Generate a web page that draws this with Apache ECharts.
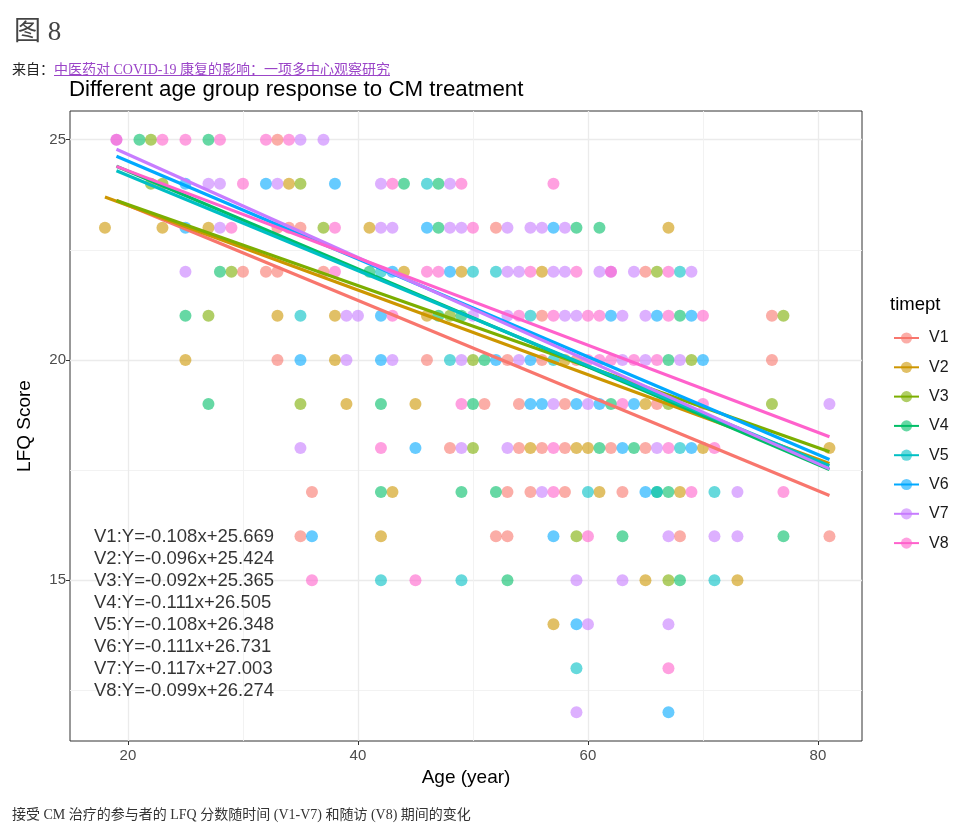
<!DOCTYPE html>
<html>
<head>
<meta charset="utf-8">
<script src="https://cdn.jsdelivr.net/npm/echarts@6/dist/echarts.min.js"></script>
<style>
html,body{margin:0;padding:0;background:#fff;width:973px;height:835px;overflow:hidden;}
#chart{position:absolute;left:0;top:0;width:973px;height:835px;}
.hdr{position:absolute;left:14px;top:9px;font-family:"Liberation Serif","Noto Sans CJK SC",serif;font-size:27px;color:#444;white-space:nowrap;}
.src{position:absolute;left:12px;top:58px;font-family:"Liberation Serif","Noto Sans CJK SC",serif;font-size:14px;color:#222;white-space:nowrap;}
.src a{color:#9b45c8;text-decoration:underline;}
.cap{position:absolute;left:12px;top:803px;font-family:"Liberation Serif","Noto Sans CJK SC",serif;font-size:14px;color:#333;white-space:nowrap;}
</style>
</head>
<body>
<div id="chart"></div>
<div class="hdr">图 8</div>
<div class="src">来自：<a href="#">中医药对 COVID-19 康复的影响：一项多中心观察研究</a></div>
<div class="cap">接受 CM 治疗的参与者的 LFQ 分数随时间 (V1-V7) 和随访 (V8) 期间的变化</div>
<script>
// ---- data ----
const seriesNames = ['V1','V2','V3','V4','V5','V6','V7','V8'];
const xTicks = [20, 40, 60, 80];
const yTicks = [15, 20, 25];
const slopes = [-0.108, -0.096, -0.092, -0.111, -0.108, -0.111, -0.117, -0.099];
const intercepts = [25.669, 25.424, 25.365, 26.505, 26.348, 26.731, 27.003, 26.274];
const fitAgeMin = [19, 18, 19, 19, 19, 19, 19, 19];
const fitAgeMax = [81, 81, 81, 81, 81, 81, 81, 81];

const v1Points = [[33,25],[33,23],[34,23],[35,23],[52,23],[30,22],[32,22],[33,22],[37,22],[65,22],
  [56,21],[76,21],[33,20],[46,20],[53,20],[56,20],[59,20],[76,20],[51,19],[54,19],[58,19],[66,19],
  [48,18],[54,18],[56,18],[58,18],[62,18],[65,18],[36,17],[53,17],[55,17],[58,17],[63,17],
  [35,16],[52,16],[53,16],[68,16],[81,16]];
const v2Points = [[34,24],[18,23],[23,23],[27,23],[41,23],[67,23],[44,22],[49,22],[56,22],
  [33,21],[38,21],[46,21],[25,20],[38,20],[58,20],[39,19],[45,19],[65,19],[55,18],[59,18],[60,18],
  [70,18],[81,18],[43,17],[61,17],[68,17],[42,16],[65,15],[73,15],[57,14]];
const v3Points = [[22,25],[22,24],[23,24],[35,24],[37,23],[29,22],[66,22],[27,21],[48,21],[77,21],
  [50,20],[69,20],[35,19],[67,19],[76,19],[50,18],[59,16],[67,15]];
const v4Points = [[21,25],[27,25],[44,24],[47,24],[47,23],[59,23],[61,23],[28,22],[41,22],
  [25,21],[47,21],[49,21],[68,21],[51,20],[67,20],[27,19],[42,19],[50,19],[62,19],[61,18],[64,18],
  [42,17],[49,17],[52,17],[66,17],[67,17],[63,16],[77,16],[53,15],[68,15]];
const v5Points = [[46,24],[42,22],[50,22],[52,22],[68,22],[35,21],[55,21],[48,20],[57,20],
  [68,18],[60,17],[66,17],[71,17],[42,15],[49,15],[71,15],[59,13]];
const v6Points = [[25,24],[32,24],[38,24],[25,23],[46,23],[57,23],[43,22],[48,22],[42,21],[62,21],
  [66,21],[69,21],[35,20],[42,20],[52,20],[55,20],[70,20],[55,19],[56,19],[59,19],[61,19],[64,19],
  [45,18],[63,18],[69,18],[65,17],[36,16],[57,16],[59,14],[67,12]];
const v7Points = [[19,25],[35,25],[37,25],[27,24],[28,24],[33,24],[42,24],[48,24],[28,23],[42,23],
  [43,23],[48,23],[49,23],[53,23],[55,23],[56,23],[58,23],[25,22],[53,22],[54,22],[57,22],[58,22],
  [61,22],[62,22],[64,22],[69,22],[39,21],[40,21],[50,21],[53,21],[58,21],[59,21],[63,21],[65,21],
  [39,20],[43,20],[49,20],[54,20],[63,20],[65,20],[68,20],[57,19],[60,19],[81,19],[35,18],[49,18],
  [53,18],[66,18],[56,17],[73,17],[67,16],[71,16],[73,16],[59,15],[63,15],[60,14],[67,14],[59,12]];
const v8Points = [[19,25],[23,25],[25,25],[28,25],[32,25],[34,25],[30,24],[43,24],[49,24],[57,24],
  [29,23],[38,23],[50,23],[38,22],[46,22],[47,22],[55,22],[59,22],[62,22],[67,22],[43,21],[54,21],
  [57,21],[60,21],[61,21],[67,21],[70,21],[60,20],[61,20],[62,20],[64,20],[66,20],[49,19],[63,19],
  [70,19],[42,18],[57,18],[67,18],[71,18],[57,17],[69,17],[77,17],[60,16],[36,15],[45,15],[67,13]];
const allPoints = [v1Points, v2Points, v3Points, v4Points, v5Points, v6Points, v7Points, v8Points];

// equation annotation anchor (data coords)
const eqAge = 17.05;
const eqScores = [16, 15.5, 15, 14.5, 14, 13.5, 13, 12.5];

// ---- styles ----
const colors = ['#F8766D','#CD9600','#7CAE00','#00BE67','#00BFC4','#00A9FF','#C77CFF','#FF61CC'];
const FONT = 'Liberation Sans, Arial, sans-serif';

const series = [];
seriesNames.forEach((n, i) => {
  const a = fitAgeMin[i], b = fitAgeMax[i];
  series.push({
    type: 'line', name: n, silent: true, animation: false,
    showSymbol: false, symbol: 'circle', symbolSize: 12,
    data: [[a, intercepts[i] + slopes[i] * a], [b, intercepts[i] + slopes[i] * b]],
    lineStyle: { color: colors[i], width: 3.2 },
    itemStyle: { color: colors[i], opacity: 0.6 },
    z: 4
  });
});
seriesNames.forEach((n, i) => {
  series.push({
    type: 'scatter', name: n, silent: true, animation: false,
    symbol: 'circle', symbolSize: 12,
    data: allPoints[i],
    itemStyle: { color: colors[i], opacity: 0.6 },
    z: 2
  });
});
const fmt = v => v.toFixed(3);
series.push({
  type: 'scatter', name: 'eq', silent: true, animation: false, symbolSize: 0,
  data: seriesNames.map((n, i) => ({
    value: [eqAge, eqScores[i]],
    label: { formatter: n + ':Y=' + fmt(slopes[i]) + 'x+' + fmt(intercepts[i]) }
  })),
  label: { show: true, position: 'right', distance: 0, offset: [0, 1], color: '#000', fontSize: 18.5, fontFamily: FONT },
  z: 5
});

const chart = echarts.init(document.getElementById('chart'), null, { renderer: 'canvas' });
chart.setOption({
  animation: false,
  backgroundColor: 'transparent',
  textStyle: { fontFamily: FONT },
  title: {
    text: 'Different age group response to CM treatment',
    left: 69, top: 79, padding: 0,
    textStyle: { fontSize: 22.3, fontWeight: 'normal', color: '#000', fontFamily: FONT }
  },
  grid: { left: 70, right: 111, top: 111, bottom: 94, show: true, borderColor: '#333', borderWidth: 1, backgroundColor: '#fff', containLabel: false },
  xAxis: {
    type: 'value', min: 14.96, max: 83.83, splitNumber: 3,
    axisLine: { show: false },
    axisTick: { show: true, length: 4, lineStyle: { color: '#333' }, customValues: xTicks },
    axisLabel: { color: '#4D4D4D', fontSize: 15, margin: 7, customValues: xTicks },
    splitLine: { show: true, lineStyle: { color: '#EBEBEB', width: 1.3 } },
    minorTick: { show: false, splitNumber: 2 },
    minorSplitLine: { show: true, lineStyle: { color: '#F0F0F0', width: 0.9 } },
    name: 'Age (year)', nameLocation: 'middle', nameGap: 27.5,
    nameTextStyle: { fontSize: 19, color: '#000' }
  },
  yAxis: {
    type: 'value', min: 11.35, max: 25.65, splitNumber: 3,
    axisLine: { show: false },
    axisTick: { show: true, length: 4, lineStyle: { color: '#333' }, customValues: yTicks },
    axisLabel: { color: '#4D4D4D', fontSize: 15, margin: 4, customValues: yTicks },
    splitLine: { show: true, lineStyle: { color: '#EBEBEB', width: 1.3 } },
    minorTick: { show: false, splitNumber: 2 },
    minorSplitLine: { show: true, lineStyle: { color: '#F0F0F0', width: 0.9 } },
    name: 'LFQ Score', nameLocation: 'middle', nameGap: 35.5,
    nameTextStyle: { fontSize: 19, color: '#000' }
  },
  legend: {
    data: seriesNames,
    orient: 'vertical', left: 893, top: 330, padding: 0,
    itemWidth: 25, itemHeight: 14, itemGap: 13.3,
    selectedMode: false,
    textStyle: { fontSize: 16, color: '#1a1a1a', lineHeight: 16, padding: [0, 0, 0, 5] }
  },
  graphic: [{
    type: 'text', left: 890, top: 295,
    style: { text: 'timept', fontSize: 18.5, fill: '#000', fontFamily: FONT }
  }],
  series: series
});
</script>
</body>
</html>
